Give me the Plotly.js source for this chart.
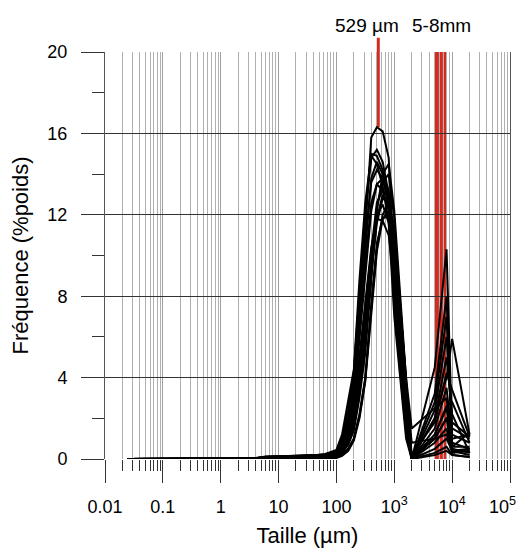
<!DOCTYPE html>
<html>
<head>
<meta charset="utf-8">
<script src="https://cdn.plot.ly/plotly-3.0.1.min.js"></script>
<style>html,body{margin:0;padding:0;background:#fff;}#chart{width:519px;height:550px;}</style>
</head>
<body>
<div id="chart"></div>
<script>
// Grain sizes (µm) at which every distribution is sampled
const sizes = [0.024, 0.1, 0.5, 2, 4, 6, 10, 20, 40, 63, 100, 125, 160, 200, 250, 315, 400, 500, 630, 800, 1000, 1250, 1600, 2000, 5000, 8000, 10000, 20000];

// Frequency (% weight) of each sample
const s01 = [0,0,0,0,0.03,0.08,0.10,0.12,0.15,0.20, 0.30,0.8,2.0,3.8,7.5,11.2,15.8,16.3,16.1,14.8,9.5,5.5,2.0,0, 0.5,1.0,0.4,0.5];
const s02 = [0,0,0,0,0.04,0.10,0.12,0.14,0.16,0.22, 0.40,1.0,2.4,4.3,8.4,12.2,15.0,14.9,14.2,12.5,7.8,4.4,1.3,0, 1.0,2.0,0.3,0.4];
const s03 = [0,0,0,0,0.03,0.09,0.11,0.13,0.15,0.20, 0.30,0.7,1.8,3.4,6.8,10.4,13.8,14.6,14.0,13.2,10.0,6.2,2.6,0, 1.5,3.5,1.0,1.2];
const s04 = [0,0,0,0,0.02,0.07,0.09,0.11,0.13,0.18, 0.20,0.5,1.3,2.5,5.0,7.8,10.4,11.8,11.7,11.0,8.5,5.0,1.8,0, 4.5,10.3,1.2,0.8];
const s05 = [0,0,0,0,0.02,0.06,0.08,0.10,0.12,0.16, 0.10,0.3,0.7,1.4,3.0,5.2,8.8,12.2,14.0,14.5,12.2,8.2,4.0,0, 2.0,4.0,5.9,1.2];
const s06 = [0,0,0,0,0.03,0.08,0.10,0.12,0.14,0.18, 0.20,0.6,1.5,2.9,6.0,9.2,12.2,13.5,13.8,12.8,10.6,6.8,3.0,0, 2.8,7.0,0.8,0.5];
const s07 = [0,0,0,0,0.02,0.07,0.09,0.11,0.13,0.17, 0.15,0.45,1.1,2.1,4.4,7.0,10.2,12.6,13.2,12.9,11.0,7.2,3.2,0, 2.0,5.0,2.2,0.3];
const s08 = [0,0,0,0,0.02,0.06,0.08,0.10,0.12,0.16, 0.20,0.5,1.2,2.4,4.8,7.6,10.2,12.0,12.5,11.6,9.6,6.2,2.6,0, 3.2,8.0,0.6,0.6];
const s09 = [0,0,0,0,0.02,0.05,0.07,0.09,0.11,0.14, 0.10,0.2,0.5,1.0,2.2,4.0,7.6,10.6,11.8,12.0,11.2,7.8,3.8,0.2, 1.8,4.2,3.4,1.1];
const s10 = [0,0,0,0,0.05,0.12,0.14,0.16,0.18,0.24, 0.45,1.2,2.8,4.4,8.8,12.6,14.9,14.5,13.4,11.6,7.0,4.0,1.0,0, 1.2,2.5,0.5,0.3];
const s11 = [0,0,0,0,0.03,0.08,0.10,0.12,0.14,0.19, 0.25,0.65,1.6,3.0,6.2,9.6,12.6,13.5,13.2,12.2,9.8,6.0,2.4,0, 2.4,6.0,1.5,1.0];
const s12 = [0,0,0,0,0.02,0.06,0.08,0.10,0.12,0.15, 0.12,0.35,0.9,1.7,3.6,6.0,9.2,11.6,12.8,12.6,11.0,7.8,4.0,1.5, 2.5,3.0,0.4,0.2];
const s13 = [0,0,0,0,0.04,0.10,0.12,0.14,0.16,0.21, 0.30,0.8,1.9,3.6,7.2,10.8,13.6,14.2,13.8,12.4,9.2,5.6,2.2,0, 0.8,1.5,0.3,0.5];
const s14 = [0,0,0,0,0,0,0,0,0.02,0.04, 0.05,0.15,0.4,0.9,2.0,3.8,7.2,10.2,11.8,12.2,11.6,8.0,4.0,0, 1.0,2.0,1.8,1.1];
const s15 = [0,0,0,0,0,0,0,0,0.01,0.03, 0.08,0.3,0.8,1.6,3.4,5.8,9.0,11.8,13.0,12.4,10.2,6.6,2.8,0, 0.3,0.6,0.2,0.1];
const s16 = [0,0,0,0,0.02,0.06,0.08,0.10,0.12,0.15, 0.15,0.4,1.0,2.0,4.0,6.6,9.8,12.4,13.6,14.0,11.8,7.6,3.6,0, 1.2,2.6,2.8,0.8];
const s17 = [0,0,0,0,0.04,0.11,0.13,0.15,0.17,0.23, 0.38,1.0,2.4,4.2,8.2,12.0,14.8,15.2,14.6,13.0,8.6,5.0,1.6,0, 0.2,0.4,0.2,0.1];
const s18 = [0,0,0,0,0.02,0.05,0.07,0.09,0.11,0.14, 0.08,0.2,0.5,1.0,2.1,3.9,7.4,10.4,12.0,12.6,10.8,7.4,3.6,0.8, 1.0,1.2,0.6,1.3];
const samples = [s01,s02,s03,s04,s05,s06,s07,s08,s09,s10,s11,s12,s13,s14,s15,s16,s17,s18];

// Reference markers
const modeSize = 529;            // µm
const modeTop = 16.3;            // % (top of the main peak)
const gravelBand = [5000, 8000]; // 5-8 mm
const gravelInner = [6000, 7000];

// Axis ticks
const xTickVals = [0.01, 0.1, 1, 10, 100, 1000, 10000, 100000];
const xTickText = ['0.01', '0.1', '1', '10', '100', '10<sup>3</sup>', '10<sup>4</sup>', '10<sup>5</sup>\u00a0\u00a0\u00a0'];
const yTickVals = [0, 4, 8, 12, 16, 20];
const yMinorVals = [2, 6, 10, 14, 18];

const xMinorVals = [];
for (let e = -2; e < 5; e++) for (let m = 2; m <= 9; m++) xMinorVals.push(+(m * Math.pow(10, e)).toPrecision(6));

const FONT = 'Liberation Sans, Arial, sans-serif';
const RED = '#d42a1f';

const traces = samples.map(v => ({
  x: sizes, y: v, type: 'scatter', mode: 'lines',
  line: {color: '#000', width: 2}, hoverinfo: 'skip', showlegend: false
}));

const shapes = [
  {type: 'rect', xref: 'x', yref: 'paper', x0: gravelBand[0], x1: gravelBand[1], y0: 0, y1: 1,
   fillcolor: RED, line: {width: 0}, layer: 'below'},
  ...gravelInner.map(v => ({type: 'line', xref: 'x', yref: 'paper', x0: v, x1: v, y0: 0, y1: 1,
   line: {color: '#e0695f', width: 1}, layer: 'below'})),
  {type: 'line', xref: 'x', yref: 'paper', x0: modeSize, x1: modeSize, y0: modeTop / 20, y1: 1.035,
   line: {color: RED, width: 3}, layer: 'below'}
];

const layout = {
  width: 519, height: 550,
  margin: {l: 105, r: 9, t: 52, b: 91},
  paper_bgcolor: '#fff', plot_bgcolor: '#fff',
  font: {family: FONT, color: '#000', size: 18},
  showlegend: false,
  xaxis: {
    type: 'log', range: [-2, 5], tickmode: 'array', tickvals: xTickVals, ticktext: xTickText,
    ticks: 'outside', ticklen: 23, tickwidth: 1, tickcolor: '#333',
    showgrid: true, gridcolor: '#a0a0a0', gridwidth: 1, zeroline: false, showline: false,
    ticklabelstandoff: 8, ticklabeloverflow: 'allow',
    tickfont: {family: FONT, size: 18, color: '#000'},
    minor: {tickmode: 'array', tickvals: xMinorVals, ticks: 'outside', ticklen: 11, tickwidth: 1,
            tickcolor: '#333', showgrid: true, gridcolor: '#b0b0b0', gridwidth: 1},
    title: {text: 'Taille (µm)', font: {family: FONT, size: 22, color: '#000'}, standoff: 12}
  },
  yaxis: {
    range: [0, 20], tickmode: 'array', tickvals: yTickVals,
    ticks: 'outside', ticklen: 23, tickwidth: 1, tickcolor: '#333',
    showgrid: true, gridcolor: '#333', gridwidth: 1, zeroline: false,
    showline: true, mirror: true, linecolor: '#555', linewidth: 1,
    ticklabelstandoff: 10,
    tickfont: {family: FONT, size: 18, color: '#000'},
    minor: {tickmode: 'array', tickvals: yMinorVals, ticks: 'outside', ticklen: 12, tickwidth: 1,
            tickcolor: '#333', showgrid: false},
    title: {text: 'Fréquence (%poids)', font: {family: FONT, size: 22, color: '#000'}, standoff: 12}
  },
  shapes: shapes,
  annotations: [
    {xref: 'x', yref: 'paper', x: Math.log10(modeSize), y: 1.065, xanchor: 'center', yanchor: 'middle',
     xshift: -11, text: modeSize + ' µm', showarrow: false, font: {family: FONT, size: 19, color: '#000'}},
    {xref: 'x', yref: 'paper', x: (Math.log10(gravelBand[0]) + Math.log10(gravelBand[1])) / 2, y: 1.065,
     xanchor: 'center', yanchor: 'middle', xshift: 1, text: '5-8mm', showarrow: false,
     font: {family: FONT, size: 19, color: '#000'}}
  ]
};

Plotly.newPlot('chart', traces, layout, {staticPlot: true, displayModeBar: false});
</script>
</body>
</html>
